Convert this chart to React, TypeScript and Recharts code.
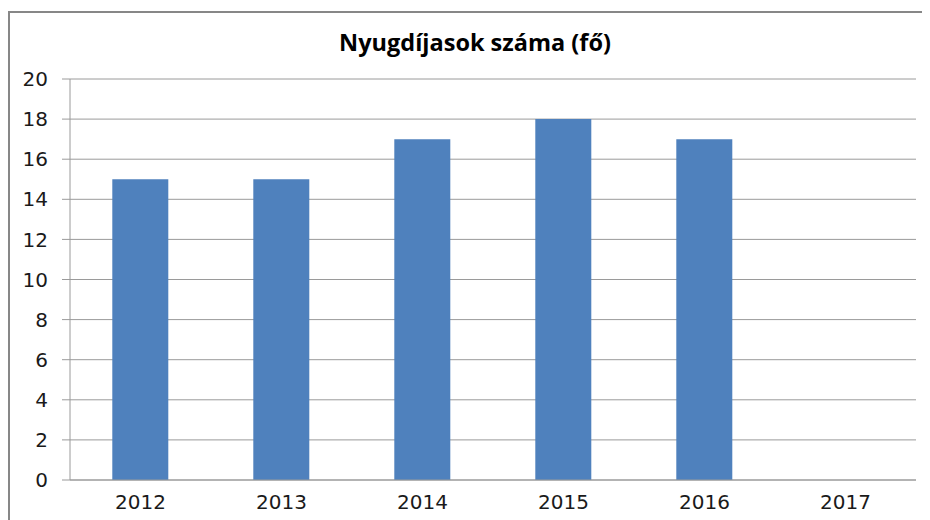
import React from "react";
import { BarChart, Bar, XAxis, YAxis, CartesianGrid } from "recharts";

const years = ["2012", "2013", "2014", "2015", "2016", "2017"];
const pensioners = [15, 15, 17, 18, 17, 0];
const yTicks = [0, 2, 4, 6, 8, 10, 12, 14, 16, 18, 20];
const edgeTicks = [0, 1, 2, 3, 4, 5, 6];
const title = "Nyugdíjasok száma (fő)";

const data = years.map((y, i) => ({ year: y, value: pensioners[i] }));

const GRID = "#9a9a9a";
const tickStyle = { fontFamily: "DejaVu Sans", fontSize: 20, fill: "#1a1a1a" };

export default function App() {
  return (
    <div style={{ width: 922, height: 512, overflow: "hidden" }}>
      <style>{"html,body{overflow:hidden}"}</style>
      <div
        style={{
          position: "relative",
          marginTop: 3,
          width: 940,
          height: 530,
          borderLeft: "2px solid #878787",
          borderTop: "2px solid #878787",
          boxSizing: "border-box",
          background: "#fff",
        }}
      >
        <div
          style={{
            position: "absolute",
            left: 0,
            width: 930,
            top: 14,
            textAlign: "center",
            fontFamily: "Open Sans",
            fontWeight: 700,
            fontSize: 23.5,
            color: "#000",
            lineHeight: "30px",
          }}
        >
          {title}
        </div>
        <BarChart
          width={921}
          height={507}
          data={data}
          margin={{ top: 66, right: 15, bottom: 0, left: 0 }}
          barCategoryGap="30%"
        >
          <CartesianGrid vertical={false} stroke={GRID} strokeWidth={1} />
          <XAxis
            xAxisId="edge"
            type="number"
            dataKey="none"
            domain={[0, 6]}
            ticks={edgeTicks}
            tick={false}
            axisLine={false}
            tickLine={{ stroke: GRID }}
            tickSize={6}
            height={0}
          />
          <XAxis
            dataKey="year"
            tick={tickStyle}
            tickLine={false}
            axisLine={{ stroke: GRID }}
            tickSize={6}
            tickMargin={9}
            height={40}
            interval={0}
          />
          <YAxis
            domain={[0, 20]}
            ticks={yTicks}
            tick={tickStyle}
            axisLine={{ stroke: GRID }}
            tickLine={{ stroke: GRID }}
            tickSize={8}
            tickMargin={14}
            width={60}
            interval={0}
          />
          <Bar dataKey="value" fill="#4f81bd" isAnimationActive={false} />
        </BarChart>
      </div>
    </div>
  );
}
